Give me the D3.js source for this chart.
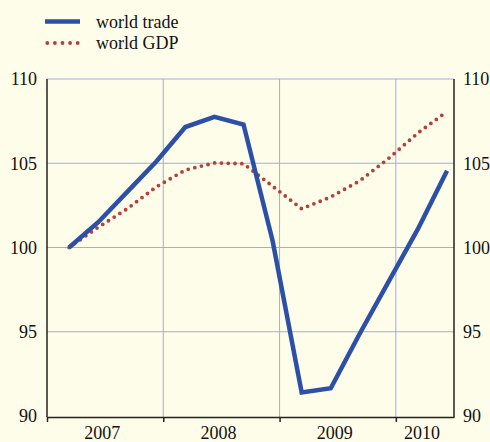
<!DOCTYPE html>
<html>
<head>
<meta charset="utf-8">
<script src="https://cdn.jsdelivr.net/npm/d3@7/dist/d3.min.js"></script>
<style>
	body { margin: 0; background: #fefde9; }
	svg { display: block; }
	svg text { font-family: "Liberation Serif", "Times New Roman", serif; }
</style>
</head>
<body>
<svg></svg>
<script>
const svgWidth = 490;
const svgHeight = 442;
const svg = d3.select("svg")
				.attr("width", svgWidth)
				.attr("height", svgHeight);

// quarterly index values, 2007Q1 .. 2010Q2
const quarters = ["2007Q1", "2007Q2", "2007Q3", "2007Q4",
				"2008Q1", "2008Q2", "2008Q3", "2008Q4",
				"2009Q1", "2009Q2", "2009Q3", "2009Q4",
				"2010Q1", "2010Q2"];
const worldTrade = [100, 101.5, 103.3, 105.1, 107.15, 107.75, 107.3,
				100.4, 91.4, 91.65, 94.9, 98.0, 101.1, 104.55];
const worldGDP = [100, 101.2, 102.3, 103.6, 104.6, 105.02, 104.97,
				103.64, 102.3, 103.0, 103.96, 105.3, 106.8, 108.07];
const years = [2007, 2008, 2009, 2010];
const yTicks = [90, 95, 100, 105, 110];
const seriesNames = ["world trade", "world GDP"];

const plotLeft = 47, plotRight = 454, plotTop = 79, plotBottom = 416;
const axisY = 417;

// quarter string -> fractional year (points sit a little after quarter start)
const qTime = q => +q.slice(0, 4) + (+q.slice(5) - 1) / 4 + 0.19;

const xScale = d3.scaleLinear()
				.domain([2007, 2010.5])
				.range([plotLeft, plotRight]);
const yScale = d3.scaleLinear()
				.domain([90, 110])
				.range([plotBottom, plotTop]);

// Grid
svg
	.append("g")
	.selectAll("line")
	.data(yTicks.filter(d => d > 90))
	.enter()
	.append("line")
		.attr("x1", plotLeft)
		.attr("x2", plotRight)
		.attr("y1", d => yScale(d))
		.attr("y2", d => yScale(d))
		.attr("stroke", "#a3aae6")
		.attr("stroke-width", 1);
svg
	.append("g")
	.selectAll("line")
	.data(years.slice(1))
	.enter()
	.append("line")
		.attr("x1", d => xScale(d))
		.attr("x2", d => xScale(d))
		.attr("y1", plotTop)
		.attr("y2", axisY)
		.attr("stroke", "#a3aae6")
		.attr("stroke-width", 1);

// Axes
let yAxisLeft = d3.axisLeft(yScale)
				.tickValues(yTicks)
				.tickSize(0)
				.tickPadding(10);
let yAxisRight = d3.axisRight(yScale)
				.tickValues(yTicks)
				.tickSize(0)
				.tickPadding(9);
let xAxis = d3.axisBottom(xScale)
				.tickValues(years)
				.tickSize(5)
				.tickSizeOuter(0)
				.tickFormat("");

[[yAxisLeft, plotLeft], [yAxisRight, plotRight]].forEach(([ax, x]) => {
	let g = svg
		.append("g")
		.attr("transform", `translate(${x}, 0)`)
		.call(ax)
		.attr("font-family", null)
		.attr("font-size", null);
	g.select(".domain")
		.attr("d", `M0,${plotTop}V${axisY}`)
		.attr("stroke", "#222")
		.attr("stroke-width", 1.5);
	g.selectAll("text")
		.style("font-size", "18px")
		.attr("fill", "#111");
});

let gx = svg
	.append("g")
	.attr("transform", `translate(0, ${axisY})`)
	.call(xAxis);
gx.select(".domain")
	.attr("stroke", "#222")
	.attr("stroke-width", 1.5);
gx.selectAll(".tick line")
	.attr("stroke", "#222")
	.attr("stroke-width", 1.5);

// Year labels centred in each year (2010 only half visible)
svg
	.append("g")
	.selectAll("text")
	.data(years)
	.enter()
	.append("text")
		.text(d => d)
		.attr("x", d => (xScale(d) + xScale(Math.min(d + 1, 2010.5))) / 2 - 3)
		.attr("y", 439)
		.style("font-size", "18px")
		.attr("text-anchor", "middle")
		.attr("fill", "#111");

// Lines
let line = d3.line()
			.x((d, i) => xScale(qTime(quarters[i])))
			.y(d => yScale(d));

svg
	.append("path")
	.attr("d", line(worldGDP))
	.attr("fill", "none")
	.attr("stroke", "#b3403a")
	.attr("stroke-width", 3.8)
	.attr("stroke-linecap", "round")
	.attr("stroke-dasharray", "0 6.8");

svg
	.append("path")
	.attr("d", line(worldTrade))
	.attr("fill", "none")
	.attr("stroke", "#2c4fa7")
	.attr("stroke-width", 4.5)
	.attr("stroke-linejoin", "miter");

// Legend
let legend = svg
	.append("g")
	.selectAll("g")
	.data(seriesNames)
	.enter()
	.append("g")
		.attr("transform", (d, i) => `translate(0, ${21.5 + i * 21.5})`);
legend
	.append("line")
		.attr("x1", (d, i) => i ? 47.3 : 45)
		.attr("x2", (d, i) => i ? 79 : 80)
		.attr("stroke", (d, i) => i ? "#b3403a" : "#2c4fa7")
		.attr("stroke-width", (d, i) => i ? 3.8 : 4.5)
		.attr("stroke-linecap", (d, i) => i ? "round" : "butt")
		.attr("stroke-dasharray", (d, i) => i ? "0 7.6" : null);
legend
	.append("text")
		.text(d => d)
		.attr("x", 96)
		.attr("y", 6)
		.style("font-size", "18px")
		.attr("fill", "#111");
</script>
</body>
</html>
